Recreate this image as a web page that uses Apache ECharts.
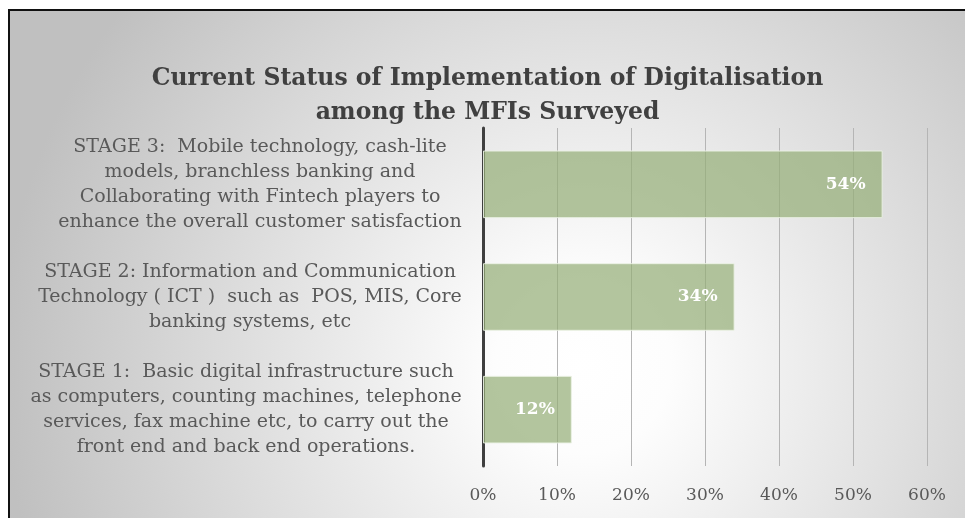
<!DOCTYPE html>
<html>
<head>
<meta charset="utf-8">
<script src="https://cdn.jsdelivr.net/npm/echarts@6/dist/echarts.min.js"></script>
<style>
  html, body { margin: 0; padding: 0; background: #fff; overflow: hidden; }
  #frame {
    position: absolute; left: 8px; top: 9px;
    width: 955px; height: 507px;
    border-left: 2px solid #111; border-top: 2px solid #111;
  }
  #chart { width: 955px; height: 507px; }
</style>
</head>
<body>
<div id="frame"><div id="chart"></div></div>
<script>
// bottom to top, as the category axis draws them
const stages = [
  'STAGE 1:  Basic digital infrastructure such\nas computers, counting machines, telephone\nservices, fax machine etc, to carry out the\nfront end and back end operations.',
  'STAGE 2: Information and Communication\nTechnology ( ICT )  such as  POS, MIS, Core\nbanking systems, etc',
  'STAGE 3:  Mobile technology, cash-lite\nmodels, branchless banking and\nCollaborating with Fintech players to\nenhance the overall customer satisfaction'
]
const shares = [12, 34, 54]
const ticks = [0, 10, 20, 30, 40, 50, 60]

const labelSize = 19
const serif = '"DejaVu Serif", "Liberation Serif", serif'

// each label block is centred on its own widest line, block sits right-aligned
const ctx = document.createElement('canvas').getContext('2d')
ctx.font = labelSize + 'px ' + serif
const rich = {}
stages.forEach((s, i) => {
  const w = Math.max(...s.split('\n').map(l => ctx.measureText(l).width))
  rich['s' + i] = {
    width: Math.ceil(w), align: 'center', lineHeight: 25,
    fontFamily: serif, fontSize: labelSize, color: '#595959'
  }
})

const chart = echarts.init(document.getElementById('chart'))
chart.setOption({
  animation: false,
  backgroundColor: {
    type: 'radial', x: 0.6, y: 0.7, r: 1.15,
    colorStops: [
      { offset: 0, color: '#ffffff' },
      { offset: 0.15, color: '#fdfdfd' },
      { offset: 1, color: '#c0c0c0' }
    ]
  },
  title: {
    text: 'Current Status of Implementation of Digitalisation\namong the MFIs Surveyed',
    left: 'center',
    top: 51,
    padding: [0, 14, 0, 5],
    textStyle: {
      fontFamily: serif, fontWeight: 'bold', fontSize: 23.5,
      lineHeight: 34, color: '#404040'
    }
  },
  grid: { left: 473, right: 38, top: 117, bottom: 52, containLabel: false },
  xAxis: {
    type: 'value',
    min: ticks[0], max: ticks[ticks.length - 1], interval: 10,
    axisLine: { show: false },
    axisTick: { show: false },
    splitLine: { lineStyle: { color: '#b5b5b5', width: 1 } },
    axisLabel: {
      formatter: '{value}%', margin: 21,
      fontFamily: serif, fontSize: 17, color: '#595959'
    }
  },
  yAxis: {
    type: 'category',
    data: stages,
    axisLine: { lineStyle: { color: '#3f3f3f', width: 3 } },
    axisTick: { show: false },
    axisLabel: {
      margin: 21, align: 'right',
      formatter: (v, i) => v.split('\n').map(l => '{s' + i + '|' + l + '}').join('\n'),
      rich: rich
    }
  },
  series: [{
    type: 'bar',
    data: shares,
    barCategoryGap: '40%',
    itemStyle: {
      color: 'rgba(150,174,120,0.72)',
      borderColor: 'rgba(235,242,228,0.9)', borderWidth: 1
    },
    label: {
      show: true, position: 'insideRight', distance: 17,
      formatter: '{c}%',
      fontFamily: serif, fontWeight: 'bold', fontSize: 17, color: '#ffffff'
    }
  }]
})
</script>
</body>
</html>
